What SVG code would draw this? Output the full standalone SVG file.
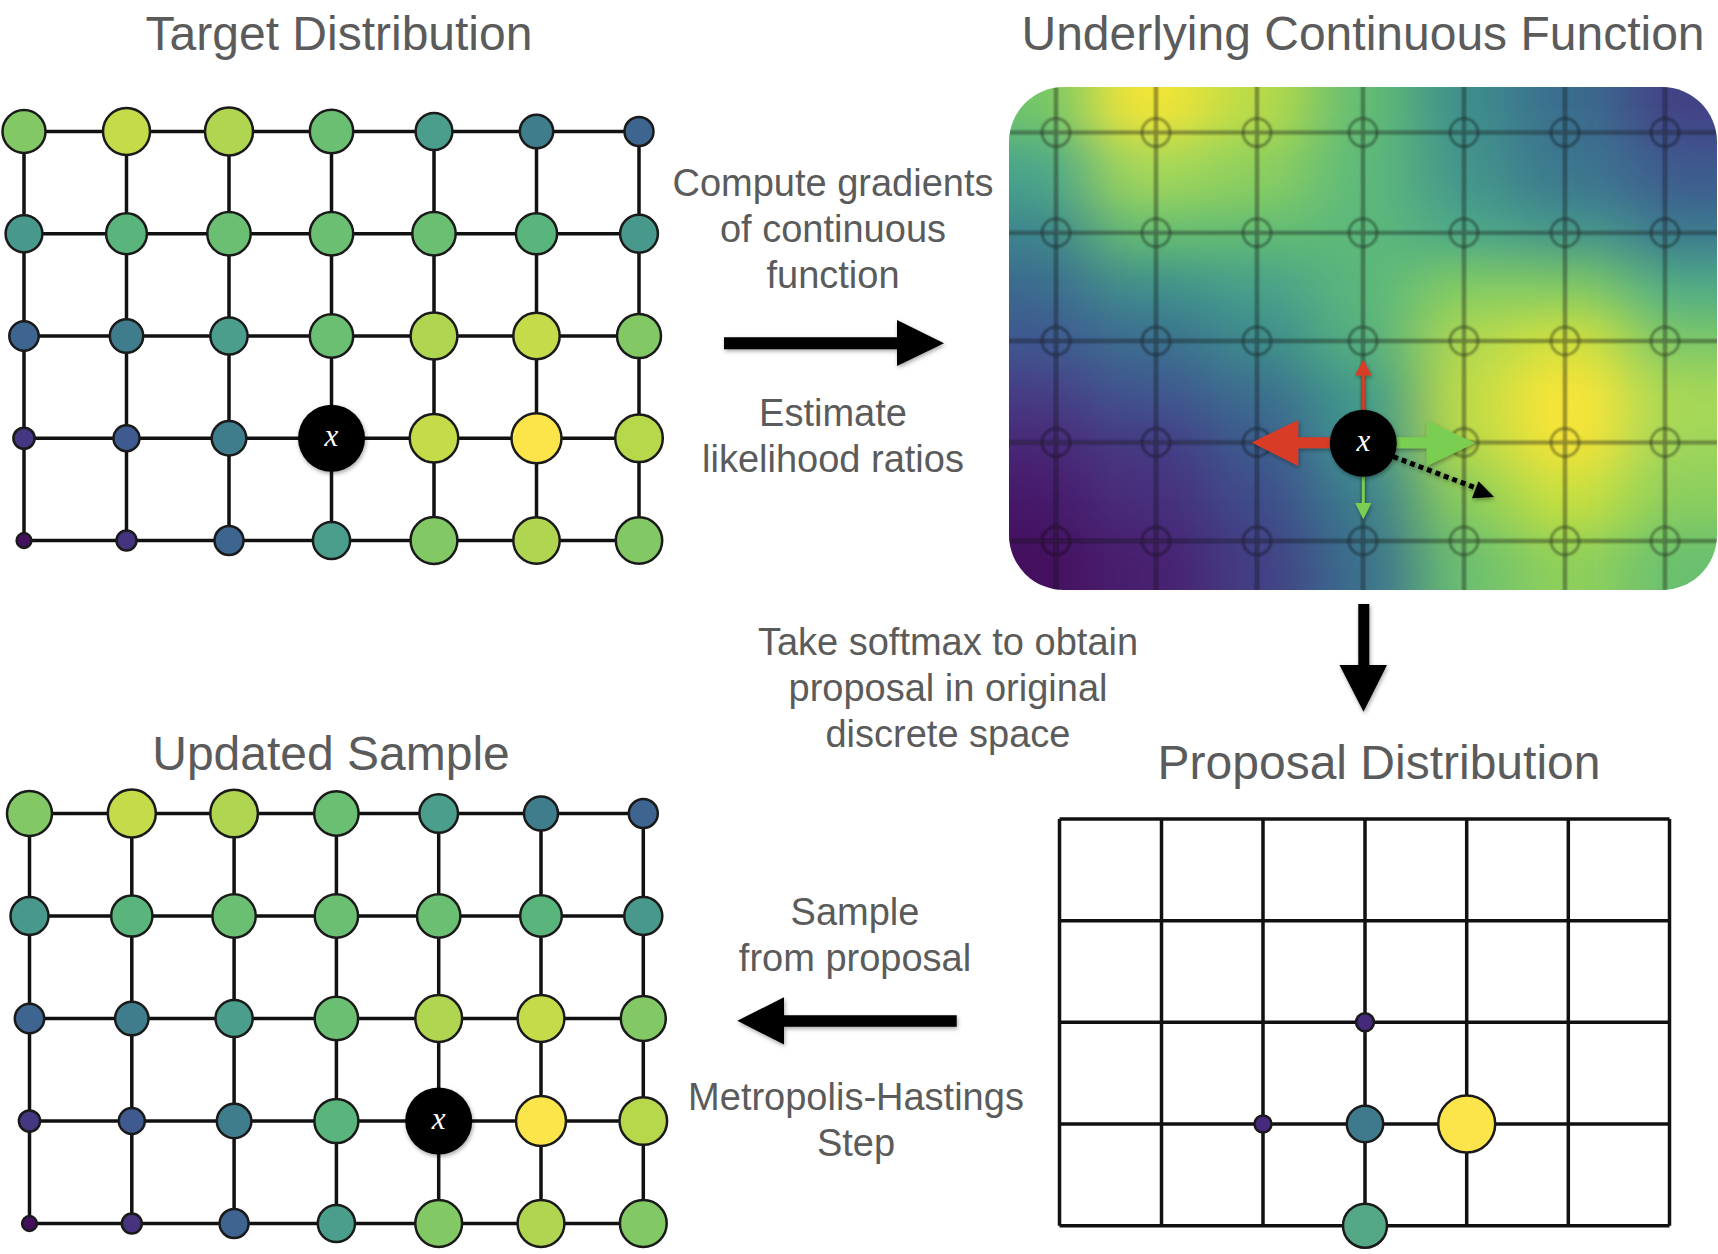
<svg xmlns="http://www.w3.org/2000/svg" width="1718" height="1254" viewBox="0 0 1718 1254">
<defs>
<style>
.ttl{font-family:"Liberation Sans",Arial,Helvetica,sans-serif;font-size:48px;fill:#5b5b5b;text-anchor:middle}
.lbl{font-family:"Liberation Sans",Arial,Helvetica,sans-serif;font-size:38px;fill:#5b5b5b;text-anchor:middle}
.edge{stroke:#111;stroke-width:3.5;fill:none}
.nd{stroke:#1a1a1a;stroke-width:2.5}
.xn{fill:#000}
.xt{font-family:"Liberation Serif","Times New Roman",serif;font-style:italic;font-size:31px;fill:#fff;text-anchor:middle}
.pg{stroke:rgba(15,15,15,0.45);stroke-width:3.5;fill:none}
.pc{stroke:rgba(15,15,15,0.4);stroke-width:2.5;fill:none}
.big{fill:#000}
</style>
<filter id="sh" x="-30%" y="-30%" width="160%" height="160%"><feDropShadow dx="1" dy="2" stdDeviation="2" flood-color="#000" flood-opacity="0.35"/></filter>
<filter id="heat" filterUnits="userSpaceOnUse" x="850" y="-50" width="1000" height="800" color-interpolation-filters="sRGB"><feGaussianBlur stdDeviation="32 22"/></filter>
<filter id="soft" x="-5%" y="-5%" width="110%" height="110%"><feGaussianBlur stdDeviation="0.9"/></filter>
<clipPath id="panelClip"><rect x="1009" y="87" width="708" height="503" rx="55" ry="55"/></clipPath>
</defs>
<rect width="1718" height="1254" fill="#fff"/>

<!-- Titles -->
<text class="ttl" x="339" y="50">Target Distribution</text>
<text class="ttl" x="1363" y="50">Underlying Continuous Function</text>
<text class="ttl" x="331" y="770">Updated Sample</text>
<text class="ttl" x="1379" y="779">Proposal Distribution</text>

<!-- Labels -->
<g id="label-gradients">
<text class="lbl" x="833" y="196">Compute gradients</text>
<text class="lbl" x="833" y="242">of continuous</text>
<text class="lbl" x="833" y="288">function</text>
<text class="lbl" x="833" y="426">Estimate</text>
<text class="lbl" x="833" y="472">likelihood ratios</text>
</g>
<g id="label-softmax">
<text class="lbl" x="948" y="655">Take softmax to obtain</text>
<text class="lbl" x="948" y="701">proposal in original</text>
<text class="lbl" x="948" y="747">discrete space</text>
</g>
<g id="label-sample">
<text class="lbl" x="855" y="925">Sample</text>
<text class="lbl" x="855" y="971">from proposal</text>
<text class="lbl" x="856" y="1110">Metropolis-Hastings</text>
<text class="lbl" x="856" y="1156">Step</text>
</g>

<!-- Main connectors -->
<g id="connectors" filter="url(#sh)">
<path class="big" d="M724,337.3 H897 V320 L944,343.2 L897,366 V349.3 H724 Z"/>
<path class="big" d="M1358.3,604 V665 H1339.5 L1363.5,711.7 L1387,665 H1369.3 V604 Z"/>
<path class="big" d="M956.7,1015.2 H784 V997.3 L737.3,1020.8 L784,1044.5 V1026.8 H956.7 Z"/>
</g>

<!-- Target Distribution grid -->
<g id="target-distribution">
<g id="target-edges">
<path class="edge" d="M24,131.5H639M24,233.75H639M24,336H639M24,438.25H639M24,540.5H639M24,131.5V540.5M126.5,131.5V540.5M229,131.5V540.5M331.5,131.5V540.5M434,131.5V540.5M536.5,131.5V540.5M639,131.5V540.5"/>
</g>
<g id="t-r0c0"><circle class="nd" cx="24" cy="131.5" r="21.5" fill="#82c865"/></g>
<g id="t-r0c1"><circle class="nd" cx="126.5" cy="131.5" r="23.5" fill="#c5db4a"/></g>
<g id="t-r0c2"><circle class="nd" cx="229" cy="131.5" r="24" fill="#b0d651"/></g>
<g id="t-r0c3"><circle class="nd" cx="331.5" cy="131.5" r="21.7" fill="#6abf72"/></g>
<g id="t-r0c4"><circle class="nd" cx="434" cy="131.5" r="18.4" fill="#4a9e8b"/></g>
<g id="t-r0c5"><circle class="nd" cx="536.5" cy="131.5" r="16.7" fill="#3f7d8c"/></g>
<g id="t-r0c6"><circle class="nd" cx="639" cy="131.5" r="14.5" fill="#3d6590"/></g>
<g id="t-r1c0"><circle class="nd" cx="24" cy="233.75" r="18.4" fill="#48998b"/></g>
<g id="t-r1c1"><circle class="nd" cx="126.5" cy="233.75" r="20.4" fill="#5ab57c"/></g>
<g id="t-r1c2"><circle class="nd" cx="229" cy="233.75" r="21.7" fill="#6abf72"/></g>
<g id="t-r1c3"><circle class="nd" cx="331.5" cy="233.75" r="21.7" fill="#6abf72"/></g>
<g id="t-r1c4"><circle class="nd" cx="434" cy="233.75" r="21.7" fill="#6abf72"/></g>
<g id="t-r1c5"><circle class="nd" cx="536.5" cy="233.75" r="20.6" fill="#5ab57c"/></g>
<g id="t-r1c6"><circle class="nd" cx="639" cy="233.75" r="18.9" fill="#48998b"/></g>
<g id="t-r2c0"><circle class="nd" cx="24" cy="336" r="14.7" fill="#3e6590"/></g>
<g id="t-r2c1"><circle class="nd" cx="126.5" cy="336" r="16.7" fill="#3f7d8c"/></g>
<g id="t-r2c2"><circle class="nd" cx="229" cy="336" r="18.6" fill="#4a9e8b"/></g>
<g id="t-r2c3"><circle class="nd" cx="331.5" cy="336" r="21.7" fill="#6abf72"/></g>
<g id="t-r2c4"><circle class="nd" cx="434" cy="336" r="23.4" fill="#b0d651"/></g>
<g id="t-r2c5"><circle class="nd" cx="536.5" cy="336" r="23.2" fill="#c5db4a"/></g>
<g id="t-r2c6"><circle class="nd" cx="639" cy="336" r="22" fill="#82c865"/></g>
<g id="t-r3c0"><circle class="nd" cx="24" cy="438.25" r="10.6" fill="#453781"/></g>
<g id="t-r3c1"><circle class="nd" cx="126.5" cy="438.25" r="13" fill="#3e5a8e"/></g>
<g id="t-r3c2"><circle class="nd" cx="229" cy="438.25" r="17.3" fill="#3f7d8c"/></g>
<g id="t-r3c3"><circle class="xn" cx="331.5" cy="438.25" r="33.5" filter="url(#sh)"/><text class="xt" x="331.5" y="446">x</text></g>
<g id="t-r3c4"><circle class="nd" cx="434" cy="438.25" r="24.3" fill="#c5db4a"/></g>
<g id="t-r3c5"><circle class="nd" cx="536.5" cy="438.25" r="25" fill="#fce54a"/></g>
<g id="t-r3c6"><circle class="nd" cx="639" cy="438.25" r="23.8" fill="#b8d84c"/></g>
<g id="t-r4c0"><circle class="nd" cx="24" cy="540.5" r="7.4" fill="#44105e"/></g>
<g id="t-r4c1"><circle class="nd" cx="126.5" cy="540.5" r="10" fill="#46337e"/></g>
<g id="t-r4c2"><circle class="nd" cx="229" cy="540.5" r="14.5" fill="#3e6590"/></g>
<g id="t-r4c3"><circle class="nd" cx="331.5" cy="540.5" r="18.6" fill="#4a9e8b"/></g>
<g id="t-r4c4"><circle class="nd" cx="434" cy="540.5" r="23.4" fill="#82c865"/></g>
<g id="t-r4c5"><circle class="nd" cx="536.5" cy="540.5" r="23.2" fill="#b0d651"/></g>
<g id="t-r4c6"><circle class="nd" cx="639" cy="540.5" r="23.2" fill="#82c865"/></g>
</g>

<!-- Updated Sample grid -->
<g id="updated-sample">
<g id="updated-edges">
<path class="edge" d="M29.5,813.5H643.3M29.5,916H643.3M29.5,1018.5H643.3M29.5,1121H643.3M29.5,1223.5H643.3M29.5,813.5V1223.5M131.8,813.5V1223.5M234.1,813.5V1223.5M336.4,813.5V1223.5M438.7,813.5V1223.5M541,813.5V1223.5M643.3,813.5V1223.5"/>
</g>
<g id="u-r0c0"><circle class="nd" cx="29.5" cy="813.5" r="22.5" fill="#82c865"/></g>
<g id="u-r0c1"><circle class="nd" cx="131.8" cy="813.5" r="24" fill="#c5db4a"/></g>
<g id="u-r0c2"><circle class="nd" cx="234.1" cy="813.5" r="23.8" fill="#b0d651"/></g>
<g id="u-r0c3"><circle class="nd" cx="336.4" cy="813.5" r="22.2" fill="#6abf72"/></g>
<g id="u-r0c4"><circle class="nd" cx="438.7" cy="813.5" r="19.3" fill="#4a9e8b"/></g>
<g id="u-r0c5"><circle class="nd" cx="541" cy="813.5" r="17" fill="#3f7d8c"/></g>
<g id="u-r0c6"><circle class="nd" cx="643.3" cy="813.5" r="14.5" fill="#3d6590"/></g>
<g id="u-r1c0"><circle class="nd" cx="29.5" cy="916" r="19" fill="#48998b"/></g>
<g id="u-r1c1"><circle class="nd" cx="131.8" cy="916" r="20.6" fill="#5ab57c"/></g>
<g id="u-r1c2"><circle class="nd" cx="234.1" cy="916" r="21.7" fill="#6abf72"/></g>
<g id="u-r1c3"><circle class="nd" cx="336.4" cy="916" r="21.7" fill="#6abf72"/></g>
<g id="u-r1c4"><circle class="nd" cx="438.7" cy="916" r="21.7" fill="#6abf72"/></g>
<g id="u-r1c5"><circle class="nd" cx="541" cy="916" r="20.8" fill="#5ab57c"/></g>
<g id="u-r1c6"><circle class="nd" cx="643.3" cy="916" r="19" fill="#48998b"/></g>
<g id="u-r2c0"><circle class="nd" cx="29.5" cy="1018.5" r="14.7" fill="#3e6590"/></g>
<g id="u-r2c1"><circle class="nd" cx="131.8" cy="1018.5" r="16.7" fill="#3f7d8c"/></g>
<g id="u-r2c2"><circle class="nd" cx="234.1" cy="1018.5" r="18.6" fill="#4a9e8b"/></g>
<g id="u-r2c3"><circle class="nd" cx="336.4" cy="1018.5" r="21.7" fill="#6abf72"/></g>
<g id="u-r2c4"><circle class="nd" cx="438.7" cy="1018.5" r="23.4" fill="#b0d651"/></g>
<g id="u-r2c5"><circle class="nd" cx="541" cy="1018.5" r="23.4" fill="#c5db4a"/></g>
<g id="u-r2c6"><circle class="nd" cx="643.3" cy="1018.5" r="22.5" fill="#82c865"/></g>
<g id="u-r3c0"><circle class="nd" cx="29.5" cy="1121" r="10.6" fill="#453781"/></g>
<g id="u-r3c1"><circle class="nd" cx="131.8" cy="1121" r="13" fill="#3e5a8e"/></g>
<g id="u-r3c2"><circle class="nd" cx="234.1" cy="1121" r="17.3" fill="#3f7d8c"/></g>
<g id="u-r3c3"><circle class="nd" cx="336.4" cy="1121" r="22" fill="#5ab57c"/></g>
<g id="u-r3c4"><circle class="xn" cx="438.7" cy="1121" r="33.5" filter="url(#sh)"/><text class="xt" x="438.7" y="1128.8">x</text></g>
<g id="u-r3c5"><circle class="nd" cx="541" cy="1121" r="25" fill="#fce54a"/></g>
<g id="u-r3c6"><circle class="nd" cx="643.3" cy="1121" r="23.8" fill="#b8d84c"/></g>
<g id="u-r4c0"><circle class="nd" cx="29.5" cy="1223.5" r="7.4" fill="#44105e"/></g>
<g id="u-r4c1"><circle class="nd" cx="131.8" cy="1223.5" r="10" fill="#46337e"/></g>
<g id="u-r4c2"><circle class="nd" cx="234.1" cy="1223.5" r="14.5" fill="#3e6590"/></g>
<g id="u-r4c3"><circle class="nd" cx="336.4" cy="1223.5" r="18.6" fill="#4a9e8b"/></g>
<g id="u-r4c4"><circle class="nd" cx="438.7" cy="1223.5" r="23.4" fill="#82c865"/></g>
<g id="u-r4c5"><circle class="nd" cx="541" cy="1223.5" r="23.4" fill="#b0d651"/></g>
<g id="u-r4c6"><circle class="nd" cx="643.3" cy="1223.5" r="23.4" fill="#82c865"/></g>
</g>

<!-- Underlying continuous function panel -->
<g id="continuous-function">
<g clip-path="url(#panelClip)">
<g filter="url(#heat)">
<rect x="900" y="20" width="189.5" height="118.5" fill="#72c66a"/>
<rect x="1089.5" y="20" width="116.5" height="118.5" fill="#f4e536"/>
<rect x="1206" y="20" width="105" height="118.5" fill="#b9db48"/>
<rect x="1311" y="20" width="104" height="118.5" fill="#63bd74"/>
<rect x="1415" y="20" width="99" height="118.5" fill="#3e8e8c"/>
<rect x="1514" y="20" width="111.5" height="118.5" fill="#3a6d8e"/>
<rect x="1625.5" y="20" width="174.5" height="118.5" fill="#424186"/>

<rect x="900" y="138.5" width="189.5" height="68" fill="#48a48a"/>
<rect x="1089.5" y="138.5" width="116.5" height="68" fill="#a4d758"/>
<rect x="1206" y="138.5" width="105" height="68" fill="#8ccf5e"/>
<rect x="1311" y="138.5" width="104" height="68" fill="#5db97a"/>
<rect x="1415" y="138.5" width="99" height="68" fill="#43948b"/>
<rect x="1514" y="138.5" width="111.5" height="68" fill="#3b768e"/>
<rect x="1625.5" y="138.5" width="174.5" height="68" fill="#3d5a8e"/>

<rect x="900" y="206.5" width="189.5" height="53.5" fill="#3d848d"/>
<rect x="1089.5" y="206.5" width="116.5" height="53.5" fill="#66bd72"/>
<rect x="1206" y="206.5" width="105" height="53.5" fill="#62bc74"/>
<rect x="1311" y="206.5" width="104" height="53.5" fill="#5cb87a"/>
<rect x="1415" y="206.5" width="99" height="53.5" fill="#4ca888"/>
<rect x="1514" y="206.5" width="111.5" height="53.5" fill="#45978b"/>
<rect x="1625.5" y="206.5" width="174.5" height="53.5" fill="#3c7a8e"/>

<rect x="900" y="260" width="189.5" height="53.5" fill="#3b6a8e"/>
<rect x="1089.5" y="260" width="116.5" height="53.5" fill="#3f8f8c"/>
<rect x="1206" y="260" width="105" height="53.5" fill="#47a08a"/>
<rect x="1311" y="260" width="104" height="53.5" fill="#5ab77b"/>
<rect x="1415" y="260" width="99" height="53.5" fill="#83cc62"/>
<rect x="1514" y="260" width="111.5" height="53.5" fill="#80ca64"/>
<rect x="1625.5" y="260" width="174.5" height="53.5" fill="#4fac86"/>

<rect x="900" y="313.5" width="189.5" height="55" fill="#3e5790"/>
<rect x="1089.5" y="313.5" width="116.5" height="55" fill="#3b6e8e"/>
<rect x="1206" y="313.5" width="105" height="55" fill="#3d8b8c"/>
<rect x="1311" y="313.5" width="104" height="55" fill="#55b07f"/>
<rect x="1415" y="313.5" width="99" height="55" fill="#b0d850"/>
<rect x="1514" y="313.5" width="111.5" height="55" fill="#d4e13c"/>
<rect x="1625.5" y="313.5" width="174.5" height="55" fill="#7cc868"/>

<rect x="900" y="368.5" width="189.5" height="51" fill="#463c84"/>
<rect x="1089.5" y="368.5" width="116.5" height="51" fill="#3f5690"/>
<rect x="1206" y="368.5" width="105" height="51" fill="#3b6e8e"/>
<rect x="1311" y="368.5" width="104" height="51" fill="#3f9a8a"/>
<rect x="1415" y="368.5" width="99" height="51" fill="#c0dc45"/>
<rect x="1514" y="368.5" width="111.5" height="51" fill="#fde636"/>
<rect x="1625.5" y="368.5" width="174.5" height="51" fill="#a8d855"/>

<rect x="900" y="419.5" width="189.5" height="50" fill="#482776"/>
<rect x="1089.5" y="419.5" width="116.5" height="50" fill="#443a83"/>
<rect x="1206" y="419.5" width="105" height="50" fill="#3b5c8e"/>
<rect x="1311" y="419.5" width="104" height="50" fill="#409490"/>
<rect x="1415" y="419.5" width="99" height="50" fill="#b8da48"/>
<rect x="1514" y="419.5" width="111.5" height="50" fill="#f7e436"/>
<rect x="1625.5" y="419.5" width="174.5" height="50" fill="#a0d65a"/>

<rect x="900" y="469.5" width="189.5" height="60.5" fill="#46186a"/>
<rect x="1089.5" y="469.5" width="116.5" height="60.5" fill="#472e7c"/>
<rect x="1206" y="469.5" width="105" height="60.5" fill="#3e4c8a"/>
<rect x="1311" y="469.5" width="104" height="60.5" fill="#3b7f8d"/>
<rect x="1415" y="469.5" width="99" height="60.5" fill="#8acd5d"/>
<rect x="1514" y="469.5" width="111.5" height="60.5" fill="#c8e03e"/>
<rect x="1625.5" y="469.5" width="174.5" height="60.5" fill="#8ace5e"/>

<rect x="900" y="530" width="189.5" height="130" fill="#440f5e"/>
<rect x="1089.5" y="530" width="116.5" height="130" fill="#482070"/>
<rect x="1206" y="530" width="105" height="130" fill="#433f85"/>
<rect x="1311" y="530" width="104" height="130" fill="#3a708d"/>
<rect x="1415" y="530" width="99" height="130" fill="#6cc070"/>
<rect x="1514" y="530" width="111.5" height="130" fill="#90d05a"/>
<rect x="1625.5" y="530" width="174.5" height="130" fill="#6ac070"/>
</g>
<g id="panel-grid" filter="url(#soft)">
<path class="pg" d="M1000,132.6H1720M1000,232.8H1720M1000,340.9H1720M1000,442.5H1720M1000,541H1720M1056,80V600M1156,80V600M1257,80V600M1363,80V600M1464,80V600M1565,80V600M1665,80V600"/>
<g class="pc">
<circle cx="1056" cy="132.6" r="14"/><circle cx="1156" cy="132.6" r="14"/><circle cx="1257" cy="132.6" r="14"/><circle cx="1363" cy="132.6" r="14"/><circle cx="1464" cy="132.6" r="14"/><circle cx="1565" cy="132.6" r="14"/><circle cx="1665" cy="132.6" r="14"/>
<circle cx="1056" cy="232.8" r="14"/><circle cx="1156" cy="232.8" r="14"/><circle cx="1257" cy="232.8" r="14"/><circle cx="1363" cy="232.8" r="14"/><circle cx="1464" cy="232.8" r="14"/><circle cx="1565" cy="232.8" r="14"/><circle cx="1665" cy="232.8" r="14"/>
<circle cx="1056" cy="340.9" r="14"/><circle cx="1156" cy="340.9" r="14"/><circle cx="1257" cy="340.9" r="14"/><circle cx="1363" cy="340.9" r="14"/><circle cx="1464" cy="340.9" r="14"/><circle cx="1565" cy="340.9" r="14"/><circle cx="1665" cy="340.9" r="14"/>
<circle cx="1056" cy="442.5" r="14"/><circle cx="1156" cy="442.5" r="14"/><circle cx="1257" cy="442.5" r="14"/><circle cx="1464" cy="442.5" r="14"/><circle cx="1565" cy="442.5" r="14"/><circle cx="1665" cy="442.5" r="14"/>
<circle cx="1056" cy="541" r="14"/><circle cx="1156" cy="541" r="14"/><circle cx="1257" cy="541" r="14"/><circle cx="1363" cy="541" r="14"/><circle cx="1464" cy="541" r="14"/><circle cx="1565" cy="541" r="14"/><circle cx="1665" cy="541" r="14"/>
</g>
</g>
</g>
<g id="gradient-arrows" filter="url(#sh)">
<path fill="#d83b27" d="M1332,437.3 H1298.3 V420 L1251.7,442.5 L1298.3,466 V448.3 H1332 Z"/>
<path fill="#7acf52" d="M1394,437.3 H1426.7 V420.7 L1475,443 L1426.7,466 V448.3 H1394 Z"/>
<line x1="1363.3" y1="412" x2="1363.3" y2="374" stroke="#d83b27" stroke-width="3"/>
<polygon fill="#d83b27" points="1355,375.5 1363.3,359.5 1371.6,375.5"/>
<line x1="1363.3" y1="475" x2="1363.3" y2="504" stroke="#7acf52" stroke-width="3"/>
<polygon fill="#7acf52" points="1355.3,503 1363.3,519.3 1371.3,503"/>
<line x1="1393.3" y1="456.7" x2="1474" y2="487.2" stroke="#000" stroke-width="5" stroke-dasharray="5 4"/>
<polygon fill="#000" points="1472,498.3 1478.5,481.3 1494,497"/>
</g>
<g id="panel-x"><circle class="xn" cx="1363.3" cy="443.3" r="33.5" filter="url(#sh)"/><text class="xt" x="1363.3" y="451">x</text></g>
</g>

<!-- Proposal Distribution -->
<g id="proposal-distribution">
<g id="proposal-edges">
<path class="edge" d="M1059.5,819H1669.5M1059.5,920.7H1669.5M1059.5,1022.3H1669.5M1059.5,1124H1669.5M1059.5,1225.7H1669.5M1059.5,819V1225.7M1161.5,819V1225.7M1263,819V1225.7M1365,819V1225.7M1466.7,819V1225.7M1568.3,819V1225.7M1669.5,819V1225.7"/>
</g>
<g id="p-r2c3"><circle class="nd" cx="1365" cy="1022.3" r="9" fill="#45297a"/></g>
<g id="p-r3c2"><circle class="nd" cx="1263" cy="1124" r="8.5" fill="#45297a"/></g>
<g id="p-r3c3"><circle class="nd" cx="1365" cy="1124" r="18.2" fill="#3f7a8c"/></g>
<g id="p-r3c4"><circle class="nd" cx="1466.7" cy="1124" r="28.5" fill="#fce54a"/></g>
<g id="p-r4c3"><circle class="nd" cx="1365" cy="1225.7" r="22" fill="#55a886"/></g>
</g>
</svg>
